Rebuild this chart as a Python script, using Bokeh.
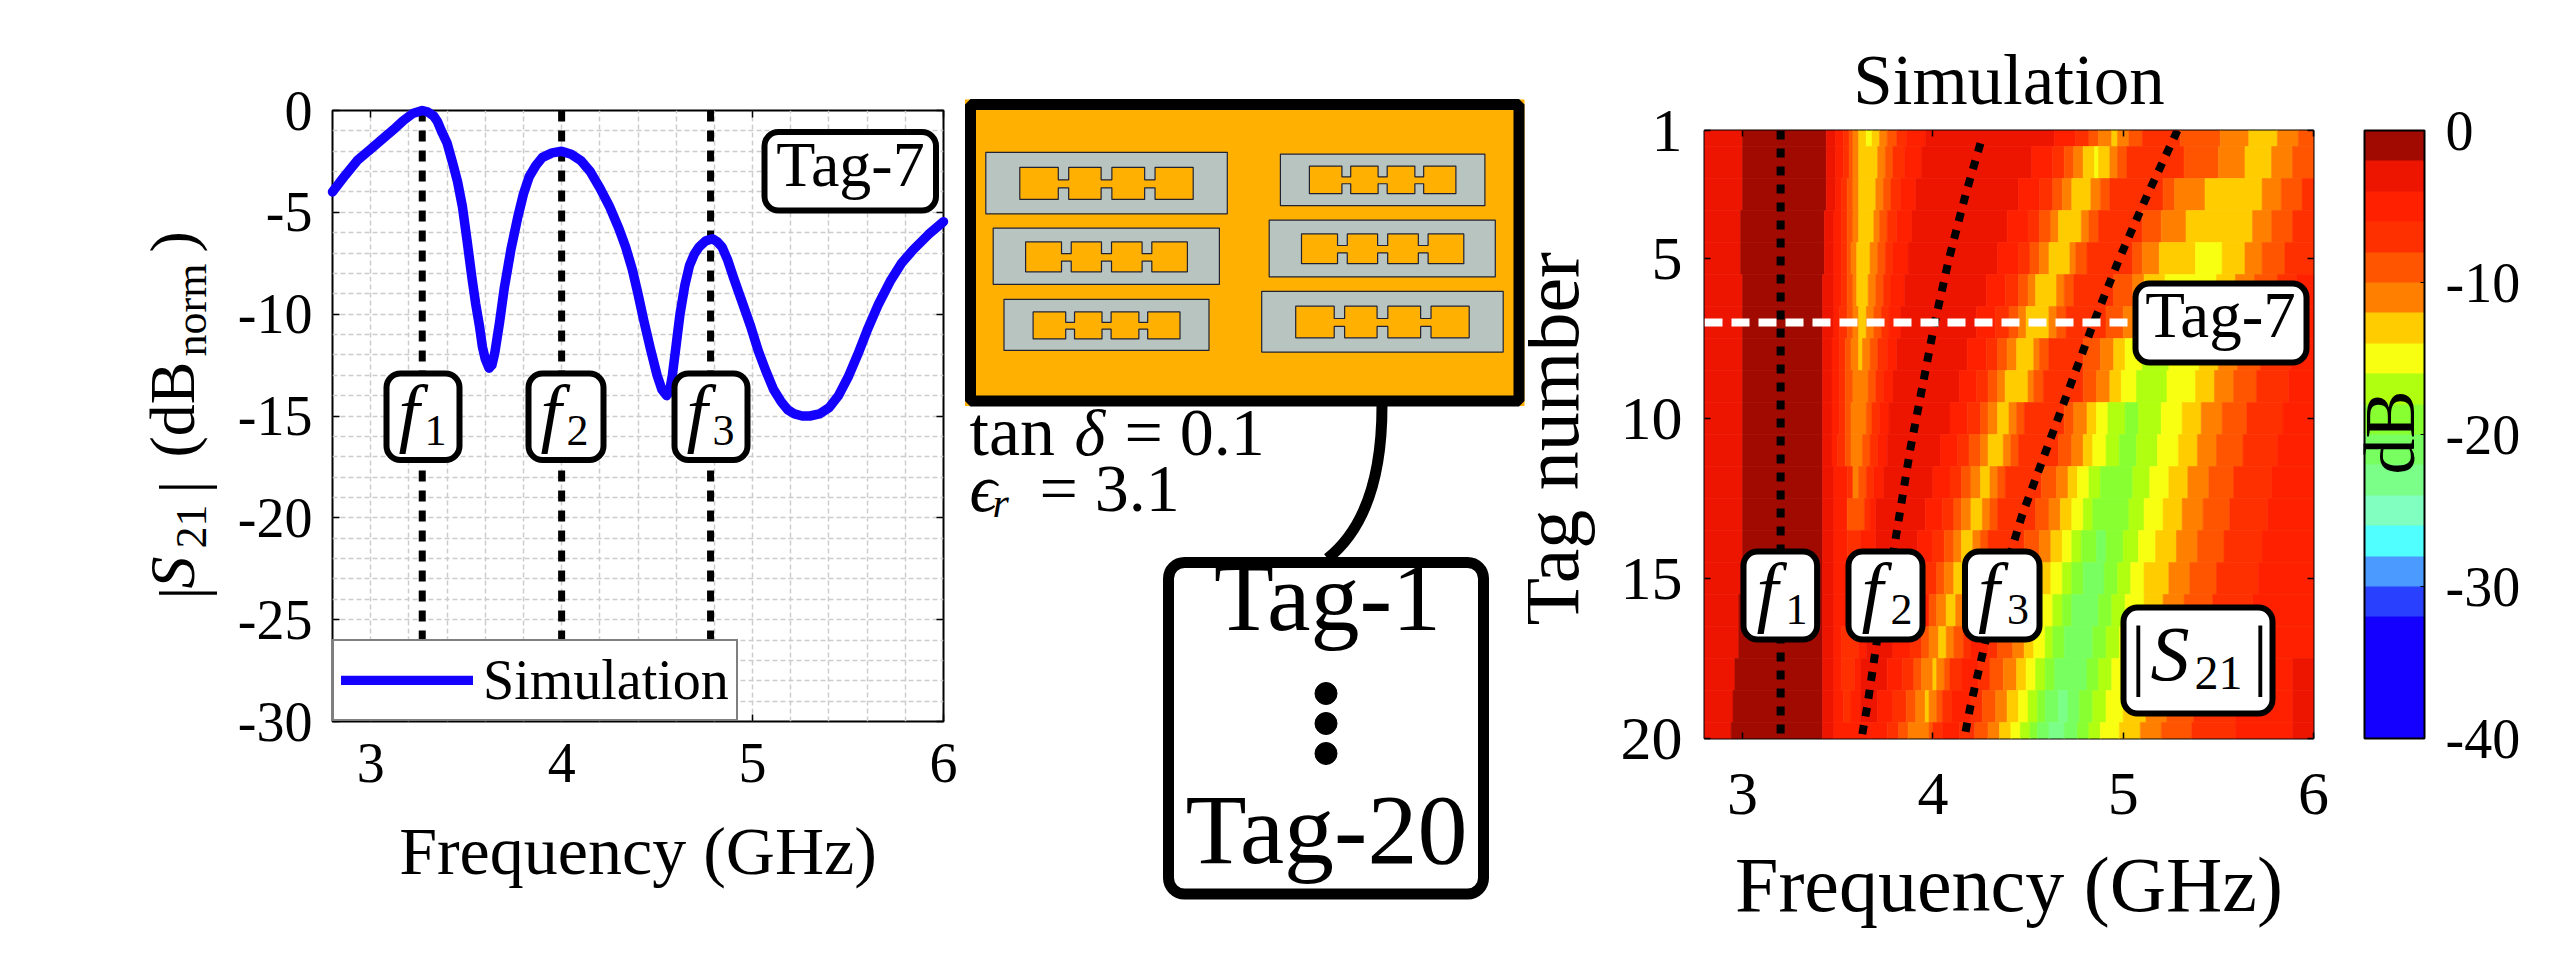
from math import pi
from bokeh.embed import file_html
from bokeh.resources import INLINE
from bokeh.layouts import row, column
from bokeh.plotting import figure
from bokeh.core.properties import value
from bokeh.models import (Range1d, FixedTicker, LinearAxis, Legend, LegendItem, ColorBar, AllLabels,
                          LinearColorMapper, ColumnDataSource, NumeralTickFormatter)

SERIF = "Liberation Serif"
BASELINE_SHIFT = 0.35

# ---------- left panel data ----------
freq_ghz = [2.80, 2.865, 2.93, 3.00, 3.07, 3.13, 3.17, 3.22, 3.27, 3.30, 3.33, 3.35, 3.37, 3.40, 3.43, 3.455, 3.48, 3.505,
            3.53, 3.55, 3.57, 3.585, 3.60, 3.62, 3.635, 3.65, 3.675, 3.70, 3.735, 3.77, 3.80, 3.83, 3.865, 3.90, 3.95, 4.00,
            4.05, 4.10, 4.15, 4.20, 4.25, 4.30, 4.335, 4.37, 4.40, 4.43, 4.465, 4.50, 4.525, 4.55, 4.565, 4.58, 4.60, 4.62,
            4.645, 4.67, 4.695, 4.72, 4.755, 4.79, 4.815, 4.84, 4.87, 4.90, 4.945, 4.99, 5.03, 5.07, 5.11, 5.15, 5.185, 5.22,
            5.26, 5.30, 5.35, 5.40, 5.45, 5.50, 5.55, 5.60, 5.66, 5.72, 5.78, 5.84, 5.92, 6.00]
s21_db = [-4.0, -3.2, -2.45, -1.9, -1.33, -0.85, -0.5, -0.15, 0.0, -0.08, -0.27, -0.55, -1.0, -1.6, -2.6, -3.5, -4.7, -6.4,
          -8.2, -9.5, -10.6, -11.6, -12.2, -12.65, -12.5, -11.9, -10.4, -8.7, -6.8, -5.25, -4.1, -3.25, -2.7, -2.3, -2.08, -2.0,
          -2.15, -2.45, -3.0, -3.8, -4.7, -5.8, -6.7, -7.8, -9.0, -10.3, -11.7, -13.0, -13.7, -14.0, -13.8, -13.0, -11.5, -10.0,
          -8.6, -7.6, -7.05, -6.7, -6.4, -6.3, -6.45, -6.7, -7.35, -8.2, -9.4, -10.6, -11.8, -12.8, -13.7, -14.3, -14.7, -14.9,
          -15.0, -15.0, -14.9, -14.6, -14.0, -13.1, -12.0, -10.8, -9.5, -8.4, -7.5, -6.85, -6.1, -5.46]
marker_freqs = [3.27, 4.00, 4.78]
left_marker_bottom = -27.0
left_x_ticks = [3, 4, 5, 6]
left_x_minor = [2.8, 3.2, 3.4, 3.6, 3.8, 4.2, 4.4, 4.6, 4.8, 5.2, 5.4, 5.6, 5.8]
left_y_ticks = [-30, -25, -20, -15, -10, -5, 0]
left_y_minor = [v for v in range(-29, 0) if v % 5]

# ---------- heatmap data: for every tag, band start (GHz) and band level (dB) ----------
TAG_01_GHZ = [2.8,3.00,3.44,3.49,3.53,3.56,3.58,3.61,3.65,3.68,3.72,3.76,3.81,3.86,3.96,4.64,4.75,4.82,4.87,4.94,4.97,5.03,5.10,5.30,5.51,5.66,5.81,5.92]
TAG_01_DB = [-3,-1,-3,-5,-7,-9,-11,-13,-15,-13,-11,-9,-7,-5,-3,-5,-7,-9,-11,-13,-11,-9,-7,-9,-11,-13,-11,-9]
TAG_02_GHZ = [2.8,3.00,3.44,3.49,3.53,3.56,3.58,3.61,3.71,3.75,3.79,3.85,3.94,4.52,4.63,4.69,4.74,4.79,4.85,4.87,4.93,4.97,5.02,5.32,5.50,5.64,5.78,5.89]
TAG_02_DB = [-3,-1,-3,-5,-7,-9,-11,-13,-11,-9,-7,-5,-3,-5,-7,-9,-11,-13,-15,-13,-11,-9,-7,-9,-11,-13,-11,-9]
TAG_03_GHZ = [2.8,3.00,3.44,3.49,3.52,3.55,3.58,3.61,3.70,3.74,3.78,3.83,3.91,4.45,4.56,4.63,4.68,4.73,4.83,4.88,4.93,5.21,5.27,5.43,5.73,5.83,5.94]
TAG_03_DB = [-3,-1,-3,-5,-7,-9,-11,-13,-11,-9,-7,-5,-3,-5,-7,-9,-11,-13,-11,-9,-7,-9,-11,-13,-11,-9,-7]
TAG_04_GHZ = [2.8,2.99,3.43,3.48,3.52,3.55,3.58,3.61,3.69,3.72,3.76,3.81,3.89,4.39,4.50,4.56,4.62,4.66,4.78,4.82,4.87,5.10,5.20,5.33,5.68,5.78,5.89]
TAG_04_DB = [-3,-1,-3,-5,-7,-9,-11,-13,-11,-9,-7,-5,-3,-5,-7,-9,-11,-13,-11,-9,-7,-9,-11,-13,-11,-9,-7]
TAG_05_GHZ = [2.8,2.99,3.43,3.48,3.52,3.55,3.57,3.60,3.67,3.71,3.75,3.79,3.87,4.34,4.45,4.51,4.56,4.61,4.72,4.75,4.81,5.05,5.10,5.19,5.38,5.52,5.64,5.73,5.85]
TAG_05_DB = [-3,-1,-3,-5,-7,-9,-11,-13,-11,-9,-7,-5,-3,-5,-7,-9,-11,-13,-11,-9,-7,-9,-11,-13,-15,-13,-11,-9,-7]
TAG_06_GHZ = [2.8,3.00,3.42,3.48,3.52,3.55,3.58,3.60,3.66,3.70,3.74,3.78,3.85,4.28,4.38,4.45,4.50,4.54,4.65,4.69,4.74,4.95,5.05,5.11,5.22,5.49,5.59,5.69,5.81,5.91]
TAG_06_DB = [-3,-1,-3,-5,-7,-9,-11,-13,-11,-9,-7,-5,-3,-5,-7,-9,-11,-13,-11,-9,-7,-9,-11,-13,-15,-13,-11,-9,-7,-5]
TAG_07_GHZ = [2.8,3.00,3.42,3.48,3.51,3.55,3.58,3.61,3.65,3.69,3.73,3.77,3.83,4.23,4.33,4.40,4.45,4.49,4.61,4.65,4.70,4.91,5.00,5.08,5.19,5.47,5.57,5.67,5.78,5.91]
TAG_07_DB = [-3,-1,-3,-5,-7,-9,-11,-13,-11,-9,-7,-5,-3,-5,-7,-9,-11,-13,-11,-9,-7,-9,-11,-13,-15,-13,-11,-9,-7,-5]
TAG_08_GHZ = [2.8,3.00,3.42,3.47,3.51,3.54,3.57,3.61,3.63,3.67,3.71,3.76,3.81,4.18,4.28,4.34,4.39,4.44,4.53,4.56,4.61,4.79,4.88,4.95,5.01,5.10,5.24,5.40,5.50,5.60,5.72,5.88]
TAG_08_DB = [-3,-1,-3,-5,-7,-9,-11,-13,-11,-9,-7,-5,-3,-5,-7,-9,-11,-13,-11,-9,-7,-9,-11,-13,-15,-17,-15,-13,-11,-9,-7,-5]
TAG_09_GHZ = [2.8,3.00,3.42,3.47,3.51,3.54,3.58,3.66,3.70,3.74,3.79,4.14,4.23,4.29,4.34,4.38,4.50,4.53,4.58,4.79,4.86,4.93,4.99,5.07,5.23,5.38,5.48,5.58,5.70,5.87]
TAG_09_DB = [-3,-1,-3,-5,-7,-9,-11,-9,-7,-5,-3,-5,-7,-9,-11,-13,-11,-9,-7,-9,-11,-13,-15,-17,-15,-13,-11,-9,-7,-5]
TAG_10_GHZ = [2.8,3.00,3.42,3.47,3.51,3.54,3.57,3.65,3.68,3.72,3.77,4.09,4.18,4.25,4.29,4.34,4.40,4.44,4.48,4.69,4.74,4.81,4.86,4.92,5.01,5.08,5.20,5.31,5.41,5.52,5.65,5.84]
TAG_10_DB = [-3,-1,-3,-5,-7,-9,-11,-9,-7,-5,-3,-5,-7,-9,-11,-13,-11,-9,-7,-9,-11,-13,-15,-17,-19,-17,-15,-13,-11,-9,-7,-5]
TAG_11_GHZ = [2.8,3.00,3.42,3.47,3.50,3.54,3.57,3.63,3.67,3.71,3.76,4.04,4.13,4.19,4.25,4.29,4.37,4.41,4.45,4.66,4.73,4.79,4.84,4.91,4.98,5.07,5.18,5.29,5.39,5.49,5.63,5.81]
TAG_11_DB = [-3,-1,-3,-5,-7,-9,-11,-9,-7,-5,-3,-5,-7,-9,-11,-13,-11,-9,-7,-9,-11,-13,-15,-17,-19,-17,-15,-13,-11,-9,-7,-5]
TAG_12_GHZ = [2.8,3.00,3.42,3.48,3.55,3.58,3.61,3.65,3.69,3.74,4.00,4.09,4.15,4.20,4.25,4.30,4.34,4.38,4.57,4.65,4.71,4.76,4.82,4.88,5.05,5.14,5.24,5.34,5.45,5.58,5.78]
TAG_12_DB = [-3,-1,-3,-5,-7,-11,-9,-7,-5,-3,-5,-7,-9,-11,-13,-11,-9,-7,-9,-11,-13,-15,-17,-19,-17,-15,-13,-11,-9,-7,-5]
TAG_13_GHZ = [2.8,3.00,3.42,3.48,3.55,3.64,3.67,3.70,3.96,4.05,4.11,4.15,4.20,4.26,4.30,4.34,4.54,4.61,4.67,4.73,4.79,4.84,5.03,5.11,5.21,5.31,5.42,5.56,5.76]
TAG_13_DB = [-3,-1,-3,-5,-9,-7,-5,-3,-5,-7,-9,-11,-13,-11,-9,-7,-9,-11,-13,-15,-17,-19,-17,-15,-13,-11,-9,-7,-5]
TAG_14_GHZ = [2.8,3.00,3.42,3.48,3.55,3.62,3.70,3.92,4.00,4.06,4.11,4.15,4.21,4.25,4.29,4.48,4.56,4.62,4.68,4.73,4.78,4.86,4.91,5.00,5.08,5.17,5.28,5.39,5.53,5.73]
TAG_14_DB = [-3,-1,-3,-5,-7,-5,-3,-5,-7,-9,-11,-13,-11,-9,-7,-9,-11,-13,-15,-17,-19,-21,-19,-17,-15,-13,-11,-9,-7,-5]
TAG_15_GHZ = [2.8,2.99,3.42,3.48,3.69,3.90,3.95,4.02,4.06,4.11,4.16,4.20,4.26,4.47,4.53,4.57,4.62,4.68,4.73,4.79,4.90,4.97,5.04,5.11,5.24,5.35,5.49,5.71]
TAG_15_DB = [-3,-1,-3,-5,-3,-5,-7,-9,-11,-13,-11,-9,-7,-9,-11,-13,-15,-17,-19,-21,-19,-17,-15,-13,-11,-9,-7,-5]
TAG_16_GHZ = [2.8,2.98,3.42,3.48,3.69,3.92,3.98,4.02,4.07,4.12,4.16,4.26,4.47,4.53,4.57,4.63,4.68,4.73,4.87,4.94,5.01,5.11,5.21,5.32,5.47,5.68]
TAG_16_DB = [-3,-1,-3,-5,-3,-5,-9,-11,-13,-11,-9,-7,-9,-11,-15,-17,-19,-21,-19,-17,-15,-13,-11,-9,-7,-5]
TAG_17_GHZ = [2.8,2.98,3.42,3.48,3.52,3.61,3.65,3.79,3.88,3.94,3.98,4.03,4.07,4.11,4.16,4.20,4.29,4.34,4.42,4.48,4.53,4.59,4.63,4.69,4.84,4.91,4.98,5.08,5.18,5.29,5.43,5.64]
TAG_17_DB = [-3,-1,-3,-5,-7,-5,-3,-5,-7,-9,-11,-13,-11,-9,-7,-5,-7,-9,-11,-13,-15,-17,-19,-21,-19,-17,-15,-13,-11,-9,-7,-5]
TAG_18_GHZ = [2.8,2.96,3.42,3.48,3.52,3.59,3.62,3.76,3.84,3.90,3.94,4.00,4.02,4.06,4.09,4.15,4.24,4.30,4.37,4.44,4.49,4.54,4.59,4.64,4.81,4.87,4.94,5.05,5.15,5.26,5.40,5.61,5.89]
TAG_18_DB = [-3,-1,-3,-5,-7,-5,-3,-5,-7,-9,-11,-13,-11,-9,-7,-5,-7,-9,-11,-13,-15,-17,-19,-21,-19,-17,-15,-13,-11,-9,-7,-5,-3]
TAG_19_GHZ = [2.8,2.95,3.42,3.48,3.53,3.57,3.62,3.71,3.79,3.86,3.91,3.96,3.98,4.02,4.05,4.10,4.20,4.26,4.33,4.39,4.45,4.50,4.55,4.59,4.66,4.71,4.77,4.84,4.91,5.00,5.12,5.23,5.37,5.59,5.89]
TAG_19_DB = [-3,-1,-3,-5,-7,-5,-3,-5,-7,-9,-11,-13,-11,-9,-7,-5,-7,-9,-11,-13,-15,-17,-19,-21,-23,-21,-19,-17,-15,-13,-11,-9,-7,-5,-3]
TAG_20_GHZ = [2.8,2.94,3.42,3.48,3.67,3.76,3.82,3.87,3.98,4.00,4.05,4.14,4.22,4.29,4.35,4.41,4.46,4.51,4.55,4.61,4.69,4.76,4.82,4.88,4.98,5.09,5.20,5.36,5.59,5.89]
TAG_20_DB = [-3,-1,-3,-5,-5,-7,-9,-11,-9,-7,-5,-7,-9,-11,-13,-15,-17,-19,-21,-23,-21,-19,-17,-15,-13,-11,-9,-7,-5,-3]

band_starts = [TAG_01_GHZ, TAG_02_GHZ, TAG_03_GHZ, TAG_04_GHZ, TAG_05_GHZ, TAG_06_GHZ, TAG_07_GHZ, TAG_08_GHZ, TAG_09_GHZ, TAG_10_GHZ,
               TAG_11_GHZ, TAG_12_GHZ, TAG_13_GHZ, TAG_14_GHZ, TAG_15_GHZ, TAG_16_GHZ, TAG_17_GHZ, TAG_18_GHZ, TAG_19_GHZ, TAG_20_GHZ]
band_levels = [TAG_01_DB, TAG_02_DB, TAG_03_DB, TAG_04_DB, TAG_05_DB, TAG_06_DB, TAG_07_DB, TAG_08_DB, TAG_09_DB, TAG_10_DB,
               TAG_11_DB, TAG_12_DB, TAG_13_DB, TAG_14_DB, TAG_15_DB, TAG_16_DB, TAG_17_DB, TAG_18_DB, TAG_19_DB, TAG_20_DB]

f1_tags = [1, 20]
f1_ghz = [3.2, 3.2]
f2_tags = [1.4, 3, 5, 7, 9, 11, 13, 15, 17, 19, 20]
f2_ghz = [4.25, 4.172, 4.085, 4.01, 3.945, 3.88, 3.825, 3.77, 3.705, 3.655, 3.625]
f3_tags = [1, 3, 5, 7, 9, 11, 13, 15, 17, 19, 20]
f3_ghz = [5.285, 5.128, 4.98, 4.845, 4.72, 4.595, 4.47, 4.367, 4.275, 4.197, 4.165]
selected_tag = 7
tag_ticks = [1, 5, 10, 15, 20]
cbar_ticks = [0, -10, -20, -30, -40]
# colour levels from -40 dB up to 0 dB, 2 dB each
palette = ["#1400FF", "#1400FF", "#1400FF", "#1400FF", "#2A40FF", "#4A9AFF", "#50FFFF", "#80FFC0", "#7CFF88", "#78FF60",
           "#88FF30", "#B0FF10", "#F8FF10", "#FFCC00", "#FF8000", "#FF5500", "#FF3000", "#FF2000", "#EE1500", "#A00A00"]

# ---------- schematic data (page pixels of the drawing) ----------
substrate_x = [964.5, 1524]
substrate_y = [99, 405.5]
tile_x0 = [985.3, 1279.9, 992.7, 1268.7, 1003.5, 1261.2]
tile_x1 = [1226.8, 1484.4, 1218.9, 1494.8, 1208.5, 1502.7]
tile_y0 = [151.8, 153.6, 227.6, 219.6, 298.8, 290.8]
tile_y1 = [213.3, 205.2, 283.9, 276.4, 349.9, 351.6]
ant_x0 = [1019.3, 1308.9, 1025.1, 1301.0, 1032.6, 1295.2]
ant_x1 = [1192.7, 1455.4, 1186.9, 1463.3, 1179.5, 1468.7]
ant_y0 = [166.8, 165.6, 241.4, 233.4, 311.4, 305.7]
ant_y1 = [198.9, 193.2, 271.3, 263.2, 338.4, 337.3]
ant_top_fx = [0, .222, .222, .282, .282, .469, .469, .531, .531, .72, .72, .78, .78, 1]
ant_top_fy = [0, 0, .39, .39, 0, 0, .39, .39, 0, 0, .39, .39, 0, 0]
ant_bot_fy = [1, 1, .64, .64, 1, 1, .64, .64, 1, 1, .64, .64, 1, 1]


def px_helpers(p, fl, fr, ft, fb):
    xr, yr = p.x_range, p.y_range
    fx = lambda px: xr.start + (px - fl) / (fr - fl) * (xr.end - xr.start)
    fy = lambda py: yr.start + (fb - py) / (fb - ft) * (yr.end - yr.start)
    return fx, fy


def put_text(p, fx, fy, x, y, txt, size, style="normal", align="left", angle=0.0, color="black"):
    if angle:
        x = x - BASELINE_SHIFT * size
    else:
        y = y - BASELINE_SHIFT * size
    p.text(x=[fx(x)], y=[fy(y)], text=[txt], text_font=value(SERIF), text_font_size=f"{size}px",
           text_font_style=style, text_align=align, text_baseline="alphabetic", angle=angle,
           text_color=color, level="overlay")


def put_box(p, fx, fy, x0, x1, y0, y1, lw=6, radius=14):
    p.quad(left=[fx(x0)], right=[fx(x1)], top=[fy(y0)], bottom=[fy(y1)], fill_color="white", line_color="black",
           line_width=lw, border_radius=radius, level="overlay")


def style_axes(p, x_ticks, y_ticks, y_labels, size, x_standoff, y_standoff, tick_in):
    xaxis = p.below[0]
    yaxis = p.left[0]
    xaxis.ticker = FixedTicker(ticks=x_ticks)
    yaxis.ticker = FixedTicker(ticks=y_ticks)
    xaxis.major_label_overrides = {t: str(t) for t in x_ticks}
    yaxis.major_label_overrides = y_labels
    for a in (xaxis, yaxis):
        a.major_label_text_font = SERIF
        a.major_label_text_font_size = f"{size}px"
        a.major_label_text_color = "black"
        a.axis_line_color = None
        a.major_tick_in = tick_in
        a.major_tick_out = 0
        a.minor_tick_line_color = None
        a.major_tick_line_color = "black"
        a.major_tick_line_width = 1.5
        a.axis_label_text_font = SERIF
        a.axis_label_text_font_style = "normal"
        a.axis_label_text_color = "black"
    xaxis.major_label_standoff = x_standoff
    yaxis.major_label_standoff = y_standoff
    top = LinearAxis(ticker=FixedTicker(ticks=x_ticks), major_label_overrides={t: "" for t in x_ticks},
                     axis_line_color=None, major_tick_in=tick_in, major_tick_out=0, minor_tick_line_color=None,
                     major_tick_line_color="black", major_tick_line_width=1.5, major_label_text_font_size="1px")
    right = LinearAxis(ticker=FixedTicker(ticks=y_ticks), major_label_overrides={t: "" for t in y_ticks},
                       axis_line_color=None, major_tick_in=tick_in, major_tick_out=0, minor_tick_line_color=None,
                       major_tick_line_color="black", major_tick_line_width=1.5, major_label_text_font_size="1px")
    p.add_layout(top, "above")
    p.add_layout(right, "right")
    p.outline_line_color = "black"
    p.outline_line_width = 2
    p.outline_line_alpha = 1


# ===================== left panel =====================
FL, FR, FT, FB = 332, 943, 110, 721
p1 = figure(width=950, height=956, output_backend="svg", toolbar_location=None,
            x_range=Range1d(2.8, 6), y_range=Range1d(-30, 0),
            min_border_left=FL - 8, min_border_right=958 - FR, min_border_top=FT - 8, min_border_bottom=964 - FB)
style_axes(p1, left_x_ticks, left_y_ticks, {t: str(t) for t in left_y_ticks}, 56, 22, 20, 7)
p1.below[0].axis_label = "Frequency (GHz)"
p1.below[0].axis_label_text_font_size = "68px"
p1.below[0].axis_label_standoff = 28
p1.xgrid[0].ticker = FixedTicker(ticks=left_x_ticks, minor_ticks=left_x_minor)
p1.ygrid[0].ticker = FixedTicker(ticks=left_y_ticks, minor_ticks=left_y_minor)
for g in (p1.xgrid[0], p1.ygrid[0]):
    g.grid_line_color = "#CCCCCC"
    g.grid_line_width = 1.5
    g.grid_line_dash = "5 3"
    g.minor_grid_line_color = "#CCCCCC"
    g.minor_grid_line_width = 1.5
    g.minor_grid_line_dash = "5 3"
for f in marker_freqs:
    p1.line([f, f], [0, left_marker_bottom], line_color="black", line_width=7, line_dash="11 9", line_cap="butt")
sim = p1.line(freq_ghz, s21_db, line_color="#1400FF", line_width=9.5, line_join="round", line_cap="round", level="annotation")
legend = Legend(items=[LegendItem(label="Simulation", renderers=[sim])], location=(0, 0), glyph_width=132, glyph_height=10,
                label_text_font=SERIF, label_text_font_size="56px", label_text_color="black", label_standoff=10,
                padding=7, margin=0, border_line_color="black", border_line_width=2, background_fill_alpha=1,
                label_height=50)
p1.add_layout(legend, "center")
fx, fy = px_helpers(p1, FL, FR, FT, FB)
put_box(p1, fx, fy, 764, 935.5, 131.5, 210)
put_text(p1, fx, fy, 850, 186, "Tag-7", 64, align="center")
for (x0, x1), sub in zip([(386, 459), (528, 603), (674, 747)], ["1", "2", "3"]):
    put_box(p1, fx, fy, x0, x1, 373, 459.5)
    put_text(p1, fx, fy, x0 + 12, 438, "f", 76, style="italic")
    put_text(p1, fx, fy, x0 + 38, 445, sub, 44)
# |S21| (dB_norm) rotated label, written piece by piece
yl = [(203, 599, "|", 64, "normal"), (194, 588, "S", 64, "italic"), (206, 548, "21", 44, "normal"),
      (203, 493, "|", 64, "normal"), (194, 457, "(dB", 64, "normal"), (206, 356, "norm", 44, "normal"),
      (194, 252, ")", 64, "normal")]
for x, y, t, s, st in yl:
    put_text(p1, fx, fy, x, y, t, s, style=st, angle=pi / 2)

# ===================== schematic =====================
p2 = figure(width=570, height=956, output_backend="svg", toolbar_location=None, x_axis_type=None, y_axis_type=None,
            x_range=Range1d(958, 1528), y_range=Range1d(964, 8), min_border=0, outline_line_color=None)
p2.grid.visible = False
p2.quad(left=[substrate_x[0]], right=[substrate_x[1]], top=[substrate_y[0]], bottom=[substrate_y[1]],
        fill_color="#FFB000", line_color="black", line_width=0)
p2.quad(left=[substrate_x[0] + 5.5], right=[substrate_x[1] - 5.5], top=[substrate_y[0] + 5], bottom=[substrate_y[1] - 5],
        fill_color="#FFB000", line_color="black", line_width=11)
p2.quad(left=tile_x0, right=tile_x1, top=tile_y0, bottom=tile_y1, fill_color="#B8C4BF", line_color="#223", line_width=1.2)
xs, ys = [], []
for a0, a1, b0, b1 in zip(ant_x0, ant_x1, ant_y0, ant_y1):
    xs.append([a0 + f * (a1 - a0) for f in ant_top_fx + ant_top_fx[::-1]])
    ys.append([b0 + f * (b1 - b0) for f in ant_top_fy + ant_bot_fy[::-1]])
p2.patches(xs, ys, fill_color="#FFB000", line_color="#223", line_width=1.2)
p2.bezier(x0=[1381.5], y0=[405], x1=[1327], y1=[558], cx0=[1381.5], cy0=[475], cx1=[1365], cy1=[528],
          line_color="black", line_width=11)
p2.quad(left=[1168], right=[1483], top=[562], bottom=[893.5], fill_color="white", line_color="black", line_width=11,
        border_radius=16)
p2.scatter([1325.5, 1325.5, 1325.5], [693, 723, 753], size=22, marker="circle", fill_color="black", line_color="black")
ident = lambda v: v
put_text(p2, ident, ident, 1327, 631, "Tag-1", 98, align="center")
put_text(p2, ident, ident, 1326, 864, "Tag-20", 100, align="center")
put_text(p2, ident, ident, 969, 455, "tan", 70)
put_text(p2, ident, ident, 1074, 455, "δ", 66, style="italic")
put_text(p2, ident, ident, 1124, 455, "= 0.1", 68)
put_text(p2, ident, ident, 969, 511, "ϵ", 68, style="italic")
put_text(p2, ident, ident, 992, 517, "r", 42, style="italic")
put_text(p2, ident, ident, 1039, 511, "= 3.1", 68)

# ===================== heatmap =====================
HL, HR, HT, HB = 1704, 2313, 130, 738
p3 = figure(width=1039, height=956, output_backend="svg", toolbar_location=None,
            x_range=Range1d(2.8, 6), y_range=Range1d(20, 1),
            min_border_left=HL - 1528, min_border_right=2567 - HR, min_border_top=HT - 8, min_border_bottom=964 - HB)
style_axes(p3, left_x_ticks, tag_ticks, {t: str(t) for t in tag_ticks}, 62, 35, 22, 6)
p3.grid.visible = False
p3.below[0].axis_label = "Frequency (GHz)"
p3.below[0].axis_label_text_font_size = "78px"
p3.below[0].axis_label_standoff = 24
p3.title.text = "Simulation"
p3.title.text_font = SERIF
p3.title.text_font_size = "71px"
p3.title.text_font_style = "normal"
p3.title.align = "center"
p3.title.text_color = "black"
p3.title.standoff = 23

mapper = LinearColorMapper(palette=palette, low=-40, high=0)
left, right, top, bottom, level = [], [], [], [], []
for i, (starts, levels) in enumerate(zip(band_starts, band_levels)):
    ends = starts[1:] + [6.0]
    for s, e, v in zip(starts, ends, levels):
        left.append(s); right.append(e); top.append(i + 0.5); bottom.append(i + 1.5); level.append(v)
src = ColumnDataSource(dict(left=left, right=right, top=top, bottom=bottom, level=level))
cmap = {"field": "level", "transform": mapper}
p3.quad(left="left", right="right", top="top", bottom="bottom", source=src, fill_color=cmap, line_color=cmap, line_width=0.6)
for xs_, ys_ in ((f1_ghz, f1_tags), (f2_ghz, f2_tags), (f3_ghz, f3_tags)):
    p3.line(xs_, ys_, line_color="black", line_width=8, line_dash="9 9", line_cap="butt")
gx, gy = px_helpers(p3, HL, HR, HT, HB)
p3.line([2.8, gx(2135)], [selected_tag, selected_tag], line_color="white", line_width=8, line_dash="18 9", line_cap="butt")

cb = ColorBar(color_mapper=mapper, ticker=FixedTicker(ticks=cbar_ticks), width=60, height=608,
              location=(2362 - HL + 2, 0), padding=0, margin=0, background_fill_alpha=0, border_line_color=None,
              bar_line_color="black", bar_line_width=2, major_tick_line_color="black", major_tick_in=4,
              major_tick_out=0, minor_tick_line_color=None, label_standoff=21,
              major_label_text_font=SERIF, major_label_text_font_size="56px", major_label_text_color="black",
              major_label_policy=AllLabels(), formatter=NumeralTickFormatter(format="0"))
p3.add_layout(cb, "center")
put_text(p3, gx, gy, 2415, 432, "dB", 72, align="center", angle=pi / 2)

put_text(p3, gx, gy, 1578, 625, "Tag number", 78, angle=pi / 2)

put_box(p3, gx, gy, 2135, 2306, 283, 362)
put_text(p3, gx, gy, 2220, 337, "Tag-7", 65, align="center")
for (x0, x1), sub in zip([(1743, 1816.6), (1848, 1922), (1964.5, 2039)], ["1", "2", "3"]):
    put_box(p3, gx, gy, x0, x1, 551, 639)
    put_text(p3, gx, gy, x0 + 13, 617, "f", 78, style="italic")
    put_text(p3, gx, gy, x0 + 42, 624, sub, 44)
put_box(p3, gx, gy, 2123, 2272, 607, 713)
put_text(p3, gx, gy, 2130, 680, "|", 78)
put_text(p3, gx, gy, 2150, 680, "S", 78, style="italic")
put_text(p3, gx, gy, 2194, 689, "21", 48)
put_text(p3, gx, gy, 2252, 680, "|", 78)

page = row(column(p1), column(p2), column(p3), spacing=0, margin=(8, 0, 0, 8))
open("out.html", "w").write(file_html(page, INLINE))
